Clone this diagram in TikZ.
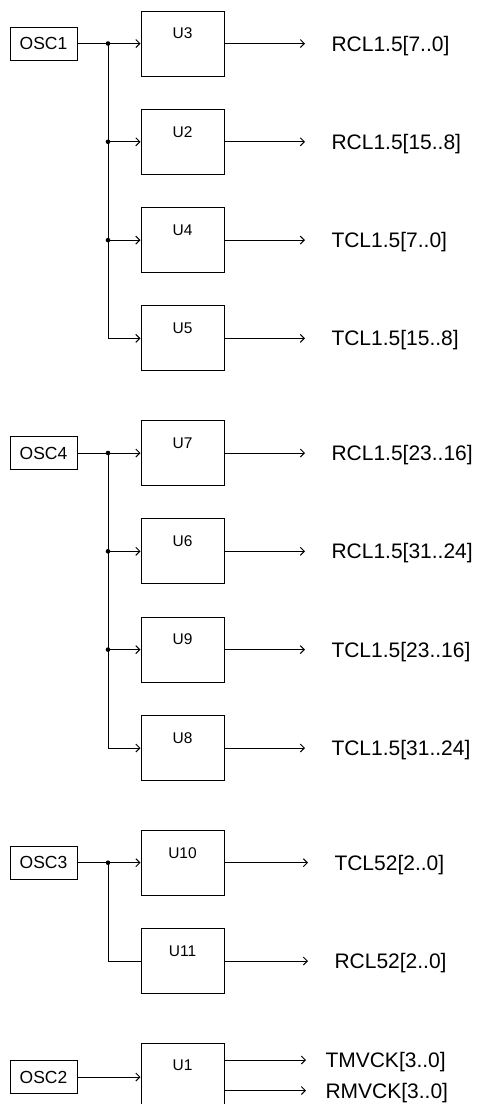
\documentclass[tikz,border=0pt]{standalone}
\usepackage{fontspec}
\setmainfont{Liberation Sans}
\usetikzlibrary{arrows.meta}
\begin{document}
\begin{tikzpicture}[x=1pt, y=-1pt, line width=1pt,
  >={Straight Barb[length=4pt,width=8pt]},
  oscbox/.style={draw, minimum width=67pt, minimum height=33pt, inner sep=0pt,
    font=\fontsize{17.5}{20}\selectfont},
  ubox/.style={draw, minimum width=83pt, minimum height=65pt, inner sep=0pt,
    label={[anchor=center, yshift=-23pt, font=\fontsize{15.5}{18}\selectfont]north:#1}},
  sig/.style={anchor=west, inner sep=0pt, text height=15pt, text depth=0pt,
    font=\fontsize{21}{25}\selectfont},
  sigline/.style={->, shorten >=26pt},
  dot/.style={fill, circle, inner sep=0pt, minimum size=4.6pt}]
\useasboundingbox (0,0) rectangle (478,1104);
\clip (0,0) rectangle (478,1104);

% first oscillator
\node[oscbox] (osc1) at (43.5,43.5) {OSC1};
\coordinate (j1) at (108,43.5);
\node[ubox=U3] (u3) at (182.5,43.5) {};
\node[ubox=U2] (u2) at (182.5,141.8) {};
\node[ubox=U4] (u4) at (182.5,240.1) {};
\node[ubox=U5] (u5) at (182.5,338.4) {};
\node[sig] (s3) at (331,43.5) {RCL1.5[7..0]};
\node[sig] (s2) at (331,141.8) {RCL1.5[15..8]};
\node[sig] (s4) at (331,240.1) {TCL1.5[7..0]};
\node[sig] (s5) at (331,338.4) {TCL1.5[15..8]};

\draw[->] (osc1) -- (u3);
\draw[->] (j1) |- (u5.west);
\draw[->] (j1 |- u2) -- (u2.west);
\draw[->] (j1 |- u4) -- (u4.west);
\node[dot] at (j1) {};
\node[dot] at (j1 |- u2) {};
\node[dot] at (j1 |- u4) {};
\draw[sigline] (u3) -- (s3);
\draw[sigline] (u2) -- (s2);
\draw[sigline] (u4) -- (s4);
\draw[sigline] (u5) -- (s5);

% second oscillator
\node[oscbox] (osc4) at (43.5,453) {OSC4};
\coordinate (j4) at (108,453);
\node[ubox=U7] (u7) at (182.5,453) {};
\node[ubox=U6] (u6) at (182.5,551.3) {};
\node[ubox=U9] (u9) at (182.5,649.6) {};
\node[ubox=U8] (u8) at (182.5,748) {};
\node[sig] (s7) at (331,453) {RCL1.5[23..16]};
\node[sig] (s6) at (331,551.3) {RCL1.5[31..24]};
\node[sig] (s9) at (331,649.6) {TCL1.5[23..16]};
\node[sig] (s8) at (331,748) {TCL1.5[31..24]};

\draw[->] (osc4) -- (u7);
\draw[->] (j4) |- (u8.west);
\draw[->] (j4 |- u6) -- (u6.west);
\draw[->] (j4 |- u9) -- (u9.west);
\node[dot] at (j4) {};
\node[dot] at (j4 |- u6) {};
\node[dot] at (j4 |- u9) {};
\draw[sigline] (u7) -- (s7);
\draw[sigline] (u6) -- (s6);
\draw[sigline] (u9) -- (s9);
\draw[sigline] (u8) -- (s8);

% third oscillator
\node[oscbox] (osc3) at (43.5,862.7) {OSC3};
\coordinate (j3) at (108,862.7);
\node[ubox=U10] (u10) at (182.5,862.7) {};
\node[ubox=U11] (u11) at (182.5,961) {};
\node[sig] (s10) at (334,862.7) {TCL52[2..0]};
\node[sig] (s11) at (334,961) {RCL52[2..0]};

\draw[->] (osc3) -- (u10);
\draw (j3) |- (u11.west);
\node[dot] at (j3) {};
\draw[sigline] (u10) -- (s10);
\draw[sigline] (u11) -- (s11);

% fourth oscillator
\node[oscbox] (osc2) at (43.5,1077) {OSC2};
\node[ubox=U1] (u1) at (182.5,1075.5) {};
\node[sig] (tm) at (325,1060) {TMVCK[3..0]};
\node[sig] (rm) at (325,1090.5) {RMVCK[3..0]};

\draw[->] (osc2) -- (osc2 -| u1.west);
\draw[->, shorten >=19pt] (u1.east |- tm) -- (tm);
\draw[->, shorten >=19pt] (u1.east |- rm) -- (rm);
\end{tikzpicture}
\end{document}
